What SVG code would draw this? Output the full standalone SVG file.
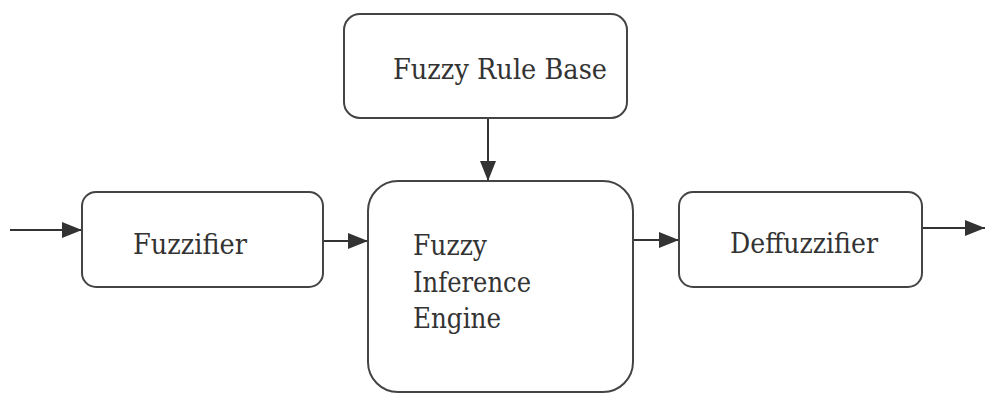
<svg xmlns="http://www.w3.org/2000/svg" width="985" height="394" viewBox="0 0 985 394">
<style>
.box{fill:#fff;stroke:#444;stroke-width:2}
.lbl{font-family:'DejaVu Serif',serif;font-size:27px;fill:#333}
.con{stroke:#333;stroke-width:2;fill:none}
</style>
<defs>
<marker id="ah" markerUnits="userSpaceOnUse" markerWidth="20" markerHeight="16" refX="20" refY="8" orient="auto">
<path d="M0,0 L20,8 L0,16 Z" fill="#333"/>
</marker>
</defs>
<rect width="985" height="394" fill="#fff"/>
<g id="connectors">
<line class="con" x1="10" y1="230" x2="82" y2="230" marker-end="url(#ah)"/>
<line class="con" x1="323" y1="241" x2="368" y2="241" marker-end="url(#ah)"/>
<line class="con" x1="488" y1="108" x2="488" y2="181" marker-end="url(#ah)"/>
<line class="con" x1="633" y1="240" x2="679" y2="240" marker-end="url(#ah)"/>
<line class="con" x1="922" y1="228" x2="985" y2="228" marker-end="url(#ah)"/>
</g>
<g id="fuzzifier">
<rect class="box" x="82" y="192" width="241" height="95" rx="14"/>
<text class="lbl" x="133" y="254" textLength="114" lengthAdjust="spacingAndGlyphs">Fuzzifier</text>
</g>
<g id="rulebase">
<rect class="box" x="344" y="14" width="283" height="104" rx="16"/>
<text class="lbl" x="393" y="79" textLength="214" lengthAdjust="spacingAndGlyphs">Fuzzy Rule Base</text>
</g>
<g id="engine">
<rect class="box" x="368" y="181" width="265" height="211" rx="30"/>
<text class="lbl" x="413" y="255" textLength="74" lengthAdjust="spacingAndGlyphs">Fuzzy</text>
<text class="lbl" x="413" y="292" textLength="118" lengthAdjust="spacingAndGlyphs">Inference</text>
<text class="lbl" x="413" y="328" textLength="88" lengthAdjust="spacingAndGlyphs">Engine</text>
</g>
<g id="defuzzifier">
<rect class="box" x="679" y="192" width="243" height="95" rx="14"/>
<text class="lbl" x="730" y="253" textLength="148" lengthAdjust="spacingAndGlyphs">Deffuzzifier</text>
</g>
</svg>
